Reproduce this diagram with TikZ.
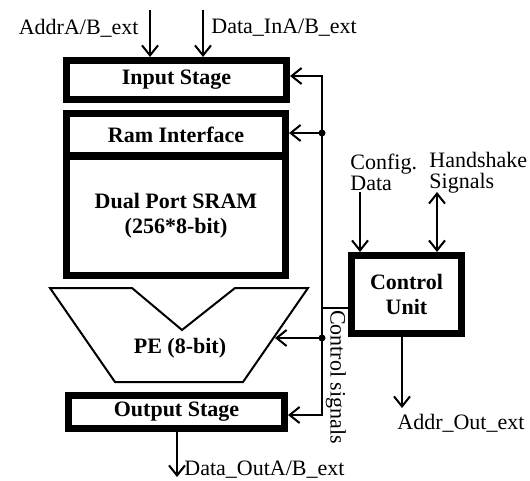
\documentclass[tikz,border=0pt]{standalone}
\usepackage{fontspec}
\setmainfont{Liberation Serif}
\usetikzlibrary{arrows.meta,positioning,calc}
\tikzset{
  >={Straight Barb[length=5pt,width=8pt]},
  unitbox/.style={draw, line width=3.5pt, inner sep=0pt, align=center,
    font=\fontsize{11}{12.5}\selectfont\bfseries},
  sig/.style={line width=1pt, ->},
  lbl/.style={inner sep=0pt, align=left, font=\fontsize{11}{10.5}\selectfont},
  tapdot/.style={circle, fill, inner sep=0pt, minimum size=3.5pt}
}

\begin{document}
\begin{tikzpicture}[x=0.5pt,y=-0.5pt]
  \useasboundingbox (0,0) rectangle (530,481);
  % memory block stack
  \node[unitbox, minimum width=110pt, minimum height=19.5pt] (input) at (176.5,80) {Input Stage};
  \node[unitbox, minimum width=109.5pt, minimum height=21.25pt] (ram) at (176,134.75) {Ram Interface};
  \node[unitbox, minimum width=109.5pt, minimum height=59.75pt] (sram) at (176,215.75) {Dual Port SRAM\\(256*8-bit)};
  \node[unitbox, minimum width=108pt, minimum height=16.5pt] (output) at (176.5,412) {Output Stage};
  \node[unitbox, minimum width=55pt, minimum height=39pt] (cu) at (406.5,294.5) {Control\\Unit};

  % processing element
  \draw[line width=1pt, line join=miter] (50,288) -- (132,288) -- (182,330) -- (235,288)
    -- (308,288) -- (243,382) -- (115,382) -- cycle;
  \node[font=\fontsize{11}{12.5}\selectfont\bfseries] (pe) at (180,348) {PE (8-bit)};
  \coordinate (pe-in) at (275,338);

  % control bus
  \coordinate (bus-top) at (322,76);
  \coordinate (bus-bot) at (322,415);
  \coordinate (tap-ram) at (322,133);
  \coordinate (tap-cu) at (322,308);
  \coordinate (tap-pe) at (322,338);
  \draw[sig, <->] (bus-top -| input.east) -- (bus-top) -- (bus-bot) -- (bus-bot -| output.east);
  \draw[sig] (tap-ram) -- (tap-ram -| ram.east);
  \draw[sig] (tap-pe) -- (pe-in);
  \draw[line width=1pt] (cu.west |- tap-cu) -- (tap-cu);
  \foreach \t in {tap-ram, tap-pe} \node[tapdot] at (\t) {};
  \node[lbl, rotate=-90] (ctrl) at (336,377) {Control signals};

  % external ports
  \coordinate (addr-in) at (150,10);
  \coordinate (data-in) at (203,10);
  \coordinate (data-out) at (177,477);
  \draw[sig] (addr-in) -- (addr-in |- input.north);
  \draw[sig] (data-in) -- (data-in |- input.north);
  \draw[sig] (output.south -| data-out) -- (data-out);
  \node[lbl, anchor=east] (addr-lbl) at (139,28) {AddrA/B\_ext};
  \node[lbl, anchor=west] (din-lbl) at (211,28) {Data\_InA/B\_ext};
  \node[lbl, anchor=west] (dout-lbl) at (184,470) {Data\_OutA/B\_ext};

  % control unit ports
  \coordinate (cfg-in) at (360,192);
  \coordinate (hs-io) at (437,192);
  \coordinate (addr-out) at (402,408);
  \draw[sig] (cfg-in) -- (cfg-in |- cu.north);
  \draw[sig, <->] (hs-io) -- (hs-io |- cu.north);
  \draw[sig] (addr-out |- cu.south) -- (addr-out);
  \node[lbl, anchor=west] (cfg-lbl) at (350,172.5) {Config.\\Data};
  \node[lbl, anchor=west] (hs-lbl) at (429,172.5) {Handshake\\Signals};
  \node[lbl, anchor=west] (aout-lbl) at (397,423) {Addr\_Out\_ext};
\end{tikzpicture}
\end{document}
